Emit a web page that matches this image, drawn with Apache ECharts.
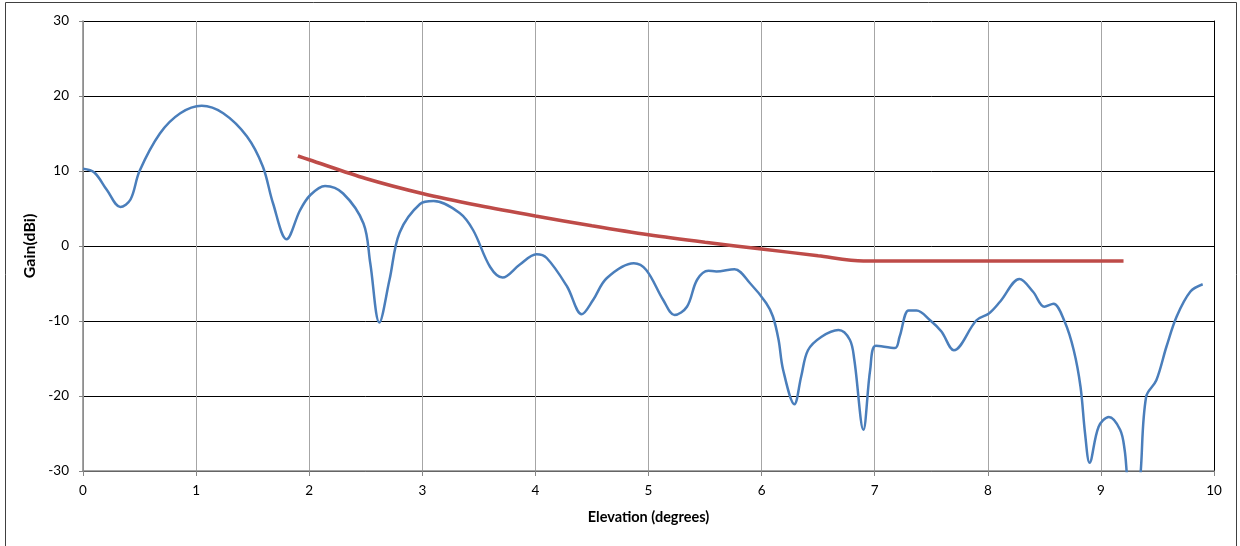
<!DOCTYPE html>
<html>
<head>
<meta charset="utf-8">
<script src="https://cdn.jsdelivr.net/npm/echarts@6/dist/echarts.min.js"></script>
<style>
html,body{margin:0;padding:0;background:#fff;}
#chart{width:1240px;height:546px;}
</style>
</head>
<body>
<div id="chart"></div>
<script>
const gainX = [0, 0.1, 0.21, 0.33, 0.42, 0.5, 0.68, 0.86, 1.05, 1.24, 1.45, 1.59, 1.68, 1.8, 1.92, 2.01, 2.14, 2.3, 2.48, 2.54, 2.62, 2.71, 2.8, 2.98, 3.1, 3.33, 3.45, 3.6, 3.71, 3.86, 4.01, 4.1, 4.28, 4.41, 4.51, 4.63, 4.87, 4.98, 5.13, 5.23, 5.34, 5.43, 5.53, 5.6, 5.76, 5.9, 6.04, 6.1, 6.15, 6.19, 6.29, 6.35, 6.41, 6.53, 6.68, 6.78, 6.82, 6.9, 6.96, 7.01, 7.18, 7.22, 7.3, 7.37, 7.49, 7.59, 7.7, 7.9, 8.01, 8.11, 8.28, 8.4, 8.5, 8.58, 8.68, 8.76, 8.82, 8.86, 8.9, 8.98, 9.07, 9.17, 9.21, 9.23, 9.29, 9.35, 9.4, 9.49, 9.58, 9.67, 9.79, 9.9];
const gainY = [10.3, 9.8, 7.5, 5.2, 6.2, 10.0, 15.0, 17.7, 18.7, 17.7, 14.6, 10.6, 5.7, 0.9, 4.8, 6.8, 8.0, 7.0, 3.0, -2.3, -10.2, -4.5, 1.8, 5.6, 6.0, 4.4, 2.1, -2.8, -4.2, -2.5, -1.1, -1.6, -5.4, -9.1, -7.2, -4.3, -2.3, -3.2, -7.2, -9.2, -8.1, -4.5, -3.3, -3.4, -3.1, -5.0, -7.6, -9.4, -12.5, -16.5, -21.1, -17.4, -13.9, -12.1, -11.2, -12.5, -15.2, -24.5, -16.5, -13.3, -13.6, -12.1, -8.6, -8.6, -9.9, -11.4, -13.9, -9.9, -9.0, -7.4, -4.4, -6.1, -8.1, -7.7, -10.1, -13.9, -18.8, -25.0, -28.9, -24.1, -22.8, -24.5, -27.2, -30.5, -40, -30.5, -20.1, -17.9, -13.4, -9.4, -6.1, -5.1];

// Mask line (dBi)
const maskX = [1.9, 2.0, 2.5, 3.0, 3.5, 4.0, 4.5, 5.0, 5.5, 6.0, 6.5, 6.9, 7.5, 8.0, 8.5, 9.2];
const maskY = [12.0, 11.5, 9.0, 7.0, 5.4, 4.0, 2.7, 1.5, 0.5, -0.4, -1.3, -2.0, -2.0, -2.0, -2.0, -2.0];

const xTicks = [0, 1, 2, 3, 4, 5, 6, 7, 8, 9, 10];
const yTicks = [-30, -20, -10, 0, 10, 20, 30];

const gainData = gainX.map((x, i) => [x, gainY[i]]);
const maskData = maskX.map((x, i) => [x, maskY[i]]);

const FONT = 'Lato, "Open Sans", sans-serif';
const chart = echarts.init(document.getElementById('chart'), null, {renderer: 'canvas'});
chart.setOption({
  animation: false,
  backgroundColor: '#ffffff',
  graphic: [{
    type: 'rect',
    shape: {x: 5.5, y: 2.5, width: 1231, height: 600},
    style: {fill: 'none', stroke: '#404040', lineWidth: 1},
    silent: true, z: -1
  }],
  grid: {left: 83, right: 26, top: 21, bottom: 75, containLabel: false},
  xAxis: {
    type: 'value',
    min: xTicks[0], max: xTicks[xTicks.length - 1], interval: 1,
    name: 'Elevation (degrees)', nameLocation: 'middle', nameGap: 39,
    nameTextStyle: {fontFamily: FONT, fontWeight: 'bold', fontSize: 14.5, color: '#000'},
    axisLine: {show: true, onZero: false, lineStyle: {color: '#868686', width: 1.5}},
    axisTick: {show: true, length: 5, lineStyle: {color: '#868686'}},
    axisLabel: {margin: 13, fontFamily: FONT, fontSize: 13.5, color: '#000'},
    splitLine: {show: true, lineStyle: {color: '#a6a6a6', width: 1}}
  },
  yAxis: [{
    type: 'value',
    min: yTicks[0], max: yTicks[yTicks.length - 1], interval: 10,
    name: 'Gain(dBi)', nameLocation: 'middle', nameGap: 38, nameRotate: 90,
    nameTextStyle: {fontFamily: FONT, fontWeight: 'bold', fontSize: 16, color: '#000'},
    axisLine: {show: true, lineStyle: {color: '#868686', width: 1.5}},
    axisTick: {show: true, length: 4, lineStyle: {color: '#868686'}},
    axisLabel: {margin: 14, fontFamily: FONT, fontSize: 13.5, color: '#000'},
    splitLine: {show: true, lineStyle: {color: '#000', width: 1}}
  }, {
    type: 'value', position: 'right',
    min: yTicks[0], max: yTicks[yTicks.length - 1], interval: 10,
    axisLine: {show: true, lineStyle: {color: '#000', width: 1}},
    axisTick: {show: false}, axisLabel: {show: false}, splitLine: {show: false}
  }],
  series: [{
    type: 'line', data: gainData, smooth: 0.35, showSymbol: false, clip: true,
    lineStyle: {color: '#4a7ebb', width: 2.5}, z: 3
  }, {
    type: 'line', data: maskData, smooth: 0.3, showSymbol: false, clip: true,
    lineStyle: {color: '#be4b48', width: 3.5}, z: 4
  }]
});
</script>
</body>
</html>
